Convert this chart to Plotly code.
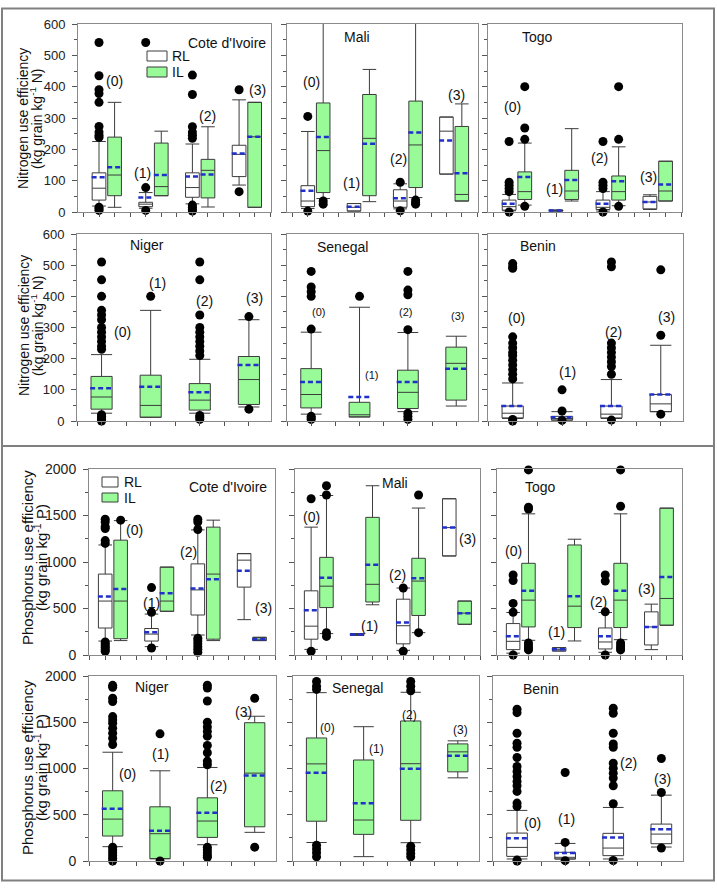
import plotly.graph_objects as go

W, H = 717, 889

GROUPS = ["(0)", "(1)", "(2)", "(3)"]
SERIES = ["RL", "IL"]
COUNTRIES = ["Cote d'Ivoire", "Mali", "Togo", "Niger", "Senegal", "Benin"]

# Box statistics per group (0)..(3): (q1, median, q3, lower whisker, upper whisker, mean)
# ---------------- Nitrogen use efficiency ----------------
N_CDI_RL = [(38, 76, 125, 19, 225, 111), (17, 25, 31, 12, 62, 46), (47, 78, 125, 26, 217, 113), (113, 184, 213, 86, 358, 187)]
N_CDI_RL_OUT = [[541, 435, 390, 378, 350, 273, 255, 245, 238, 15, 10, 5], [541, 78, 5], [437, 375, 272, 255, 245, 235, 22, 15, 8, 3], [390, 65]]
N_CDI_IL = [(52, 118, 239, 15, 350, 143), (52, 81, 220, 52, 258, 118), (45, 133, 168, 16, 272, 120), (15, 240, 350, 15, 350, 240)]
N_CDI_IL_OUT = [[], [], [], []]

N_MALI_RL = [(17, 35, 84, 11, 257, 68), (3, 15, 27, 3, 27, 17), (15, 35, 71, 10, 90, 44), (121, 258, 303, 121, 303, 228)]
N_MALI_RL_OUT = [[305, 3], [], [95, 4], []]
N_MALI_IL = [(62, 196, 348, 43, 750, 239), (52, 235, 375, 33, 455, 218), (78, 214, 354, 46, 750, 254), (35, 56, 273, 35, 345, 124)]
N_MALI_IL_OUT = [[35, 25], [], [38, 30, 25], []]

N_TOGO_RL = [(6, 17, 38, 4, 56, 26), (3, 5, 6, 3, 6, 5), (8, 15, 38, 3, 65, 26), (10, 32, 50, 8, 55, 32)]
N_TOGO_RL_OUT = [[225, 95, 85, 75, 65, 0], [], [225, 95, 85, 75, 0], []]
N_TOGO_IL = [(40, 65, 128, 22, 220, 112), (40, 67, 133, 35, 266, 102), (38, 65, 115, 20, 208, 98), (35, 67, 162, 35, 162, 88)]
N_TOGO_IL_OUT = [[400, 268, 232, 18], [], [400, 232, 18], []]

N_NIGER_IL = [(38, 77, 143, 25, 213, 105), (12, 50, 147, 12, 355, 110), (35, 67, 120, 25, 198, 92), (53, 133, 207, 45, 325, 180)]
N_NIGER_IL_OUT = [[510, 453, 400, 355, 340, 325, 300, 285, 270, 255, 240, 230, 20, 15, 10, 5, 0], [400],
                  [510, 453, 340, 300, 285, 270, 255, 240, 225, 210, 18, 12, 5], [335, 38]]

N_SENEGAL_IL = [(42, 85, 168, 22, 285, 125), (13, 20, 60, 13, 365, 77), (40, 92, 163, 30, 284, 125), (67, 185, 237, 48, 272, 168)]
N_SENEGAL_IL_OUT = [[480, 430, 415, 400, 295, 15, 10, 5], [400], [480, 420, 405, 293, 25, 15, 5], []]

N_BENIN_RL = [(10, 25, 48, 8, 122, 48), (3, 8, 15, 3, 30, 12), (10, 22, 48, 8, 133, 48), (30, 55, 85, 30, 243, 85)]
N_BENIN_RL_OUT = [[505, 495, 490, 270, 250, 235, 220, 210, 195, 180, 165, 150, 135, 5, 0], [100, 32, 2],
                  [510, 495, 250, 235, 220, 205, 190, 175, 150, 3], [485, 275, 22]]

# ---------------- Phosphorus use efficiency ----------------
P_CDI_RL = [(290, 580, 870, 150, 1183, 630), (150, 225, 285, 90, 440, 245), (430, 700, 980, 215, 1345, 715), (730, 1020, 1090, 380, 1090, 905)]
P_CDI_RL_OUT = [[1460, 1430, 1380, 1360, 1230, 1200, 140, 120, 100, 80, 60, 40], [725, 460, 75],
                [1460, 1430, 1350, 180, 150, 120, 90, 60, 30], []]
P_CDI_IL = [(175, 580, 1235, 155, 1445, 710), (470, 580, 945, 470, 945, 665), (170, 870, 1375, 155, 1450, 815), (155, 170, 190, 155, 190, 170)]
P_CDI_IL_OUT = [[1450], [], [], []]

P_MALI_RL = [(170, 310, 690, 60, 1375, 480), (210, 220, 230, 210, 230, 220), (120, 315, 600, 50, 720, 350), (1065, 1370, 1680, 1065, 1680, 1370)]
P_MALI_RL_OUT = [[1680, 40], [], [720, 40], []]
P_MALI_IL = [(510, 740, 1050, 230, 1715, 830), (570, 760, 1480, 540, 1820, 970), (425, 795, 1040, 240, 1580, 825), (330, 450, 580, 330, 580, 450)]
P_MALI_IL_OUT = [[1820, 1720, 240, 200], [], [1720, 240], []]

P_TOGO_RL = [(58, 147, 338, 20, 457, 201), (43, 61, 79, 43, 79, 61), (65, 140, 291, 29, 457, 201), (108, 302, 464, 58, 547, 302)]
P_TOGO_RL_OUT = [[860, 800, 555, 460, 0], [], [860, 795, 464, 0], []]
P_TOGO_IL = [(302, 590, 986, 158, 1518, 691), (295, 525, 1183, 151, 1245, 633), (295, 590, 986, 165, 1518, 691), (320, 608, 1579, 320, 1579, 838)]
P_TOGO_IL_OUT = [[1990, 1590, 1570, 130, 100, 75, 55], [], [1990, 1600, 130, 100, 75, 55], []]

P_NIGER_IL = [(270, 453, 759, 155, 1176, 565), (25, 295, 586, 25, 975, 327), (255, 432, 683, 176, 1011, 522), (370, 950, 1495, 310, 1565, 925)]
P_NIGER_IL_OUT = [[1899, 1878, 1759, 1723, 1561, 1525, 1489, 1435, 1381, 1327, 1259, 150, 120, 90, 60, 30, 0], [1375, 0],
                  [1900, 1870, 1730, 1500, 1450, 1400, 1350, 1250, 1170, 1080, 1040, 150, 120, 90, 60, 40], [1760, 150]]

P_SENEGAL_IL = [(430, 1050, 1330, 200, 1820, 955), (288, 443, 1092, 47, 1452, 623), (440, 1052, 1514, 198, 1824, 998), (964, 1180, 1266, 899, 1299, 1137)]
P_SENEGAL_IL_OUT = [[1940, 1890, 1855, 170, 130, 90, 45], [], [1940, 1890, 1840, 160, 120, 80, 45], []]

P_BENIN_RL = [(50, 147, 302, 22, 547, 245), (22, 40, 94, 22, 190, 86), (58, 140, 299, 22, 579, 255), (187, 291, 399, 151, 712, 342)]
P_BENIN_RL_OUT = [[1640, 1604, 1381, 1273, 1230, 1119, 1022, 968, 914, 860, 813, 752, 626, 590, 10, 0], [957, 201, 4],
                  [1651, 1597, 1381, 1266, 1230, 1058, 1004, 950, 896, 813, 619, 5], [1108, 741, 140]]

Y_TITLES = {"N": ("Nitrogen use efficiency", "(kg grain kg<sup>-1</sup> N)"),
            "P": ("Phosphorus use efficiency", "(kg grain kg<sup>-1</sup> P)")}
Y_MAX = {"N": 600, "P": 2000}
Y_DTICK = {"N": 100, "P": 500}

# ---------------- panel specification ----------------
PANELS = [
    dict(nut="N", row=0, col=0, country=COUNTRIES[0], RL=(N_CDI_RL, N_CDI_RL_OUT), IL=(N_CDI_IL, N_CDI_IL_OUT)),
    dict(nut="N", row=0, col=1, country=COUNTRIES[1], RL=(N_MALI_RL, N_MALI_RL_OUT), IL=(N_MALI_IL, N_MALI_IL_OUT)),
    dict(nut="N", row=0, col=2, country=COUNTRIES[2], RL=(N_TOGO_RL, N_TOGO_RL_OUT), IL=(N_TOGO_IL, N_TOGO_IL_OUT)),
    dict(nut="N", row=1, col=0, country=COUNTRIES[3], IL=(N_NIGER_IL, N_NIGER_IL_OUT)),
    dict(nut="N", row=1, col=1, country=COUNTRIES[4], IL=(N_SENEGAL_IL, N_SENEGAL_IL_OUT)),
    dict(nut="N", row=1, col=2, country=COUNTRIES[5], RL=(N_BENIN_RL, N_BENIN_RL_OUT)),
    dict(nut="P", row=0, col=0, country=COUNTRIES[0], RL=(P_CDI_RL, P_CDI_RL_OUT), IL=(P_CDI_IL, P_CDI_IL_OUT)),
    dict(nut="P", row=0, col=1, country=COUNTRIES[1], RL=(P_MALI_RL, P_MALI_RL_OUT), IL=(P_MALI_IL, P_MALI_IL_OUT)),
    dict(nut="P", row=0, col=2, country=COUNTRIES[2], RL=(P_TOGO_RL, P_TOGO_RL_OUT), IL=(P_TOGO_IL, P_TOGO_IL_OUT)),
    dict(nut="P", row=1, col=0, country=COUNTRIES[3], IL=(P_NIGER_IL, P_NIGER_IL_OUT)),
    dict(nut="P", row=1, col=1, country=COUNTRIES[4], IL=(P_SENEGAL_IL, P_SENEGAL_IL_OUT)),
    dict(nut="P", row=1, col=2, country=COUNTRIES[5], RL=(P_BENIN_RL, P_BENIN_RL_OUT)),
]

# ---------------- geometry (target pixels in the picture) ----------------
ROW_PX = {("N", 0): (24, 212), ("N", 1): (234, 421), ("P", 0): (469, 655), ("P", 1): (676, 861)}
COL_PX = {("N", 0): [(78, 271), (287, 478), (488, 682)],
          ("N", 1): [(77, 271), (287, 478), (488, 683)],
          ("P", 0): [(89, 275), (295, 480), (497, 682)],
          ("P", 1): [(89, 276), (293, 479), (493, 683)]}
COUNTRY_PX = [(227, 43), (357, 37), (537, 37), (147, 245), (342, 247), (538, 246),
              (228, 487), (395, 483), (540, 487), (152, 687), (357, 688), (541, 689)]
# group label positions, in each panel's data coordinates
LABEL_XY = [
    [(2.0, 417), (3.8, 124), (8.0, 305), (11.2, 390)],
    [(1.26, 415), (3.84, 92), (6.87, 168), (10.68, 373)],
    [(1.2, 335), (3.9, 73), (6.75, 172), (9.9, 112)],
    [(1.42, 284), (2.13, 444), (3.09, 385), (4.11, 394)],
    [(1.15, 351), (2.25, 147), (2.95, 349), (4.03, 337)],
    [(1.07, 329), (2.11, 157), (3.05, 286), (4.11, 333)],
    [(2.92, 1344), (4.0, 559), (6.38, 1107), (11.25, 505)],
    [(1.05, 1484), (4.82, 312), (6.64, 860), (11.18, 1247)],
    [(1.05, 1118), (3.85, 247), (6.57, 570), (9.69, 710)],
    [(1.32, 946), (2.0, 1161), (3.23, 806), (3.76, 1612)],
    [(1.24, 1440), (2.28, 1215), (2.98, 1580), (4.05, 1419)],
    [(1.33, 409), (2.02, 452), (3.31, 1064), (4.03, 882)],
]
LABEL_SIZE = [14, 14, 14, 14, 11, 14, 14, 14, 14, 14, 12, 14]
# y-axis title placement: (nutrient, centre y, x of line 1, x of line 2, font size)
TITLE_PX = [("N", 119, 23, 36, 14), ("N", 326, 24, 37, 14), ("P", 558, 27, 40, 15), ("P", 768, 27, 40, 15)]
LEGEND_PX = [((147, 51, 167, 61), (147, 67, 167, 77), 170), ((102, 477, 118, 487), (102, 493, 118, 502), 122)]

FONT = "Liberation Sans, Arial, sans-serif"
FILL = {"RL": "#ffffff", "IL": "#98fb98"}
BOX_LINE = "#3c3c3c"
MEAN_COLOR = "#2030c8"
AXIS_COLOR = "#8a8a8a"

# the page is shown with an 8 px top offset and a slight vertical squeeze
V_OFF, V_SCALE = 8.0, 0.982


def px_x(px):
    return px / W


def px_y(py):
    d = (py - V_OFF) / V_SCALE
    d = min(max(d, 0.5), H - 0.5)
    return 1 - d / H


fig = go.Figure()
annotations = []
shapes = []

for i, p in enumerate(PANELS):
    n = i + 1
    xa = "x" if n == 1 else f"x{n}"
    ya = "y" if n == 1 else f"y{n}"
    paired = ("RL" in p) and ("IL" in p)
    if paired:
        pos = {"RL": [1, 4, 7, 10], "IL": [2, 5, 8, 11]}
        xr = [-0.35, 12.05] if p["nut"] == "N" else [-0.05, 12.0]
        bw = 0.88
        tick0, dtick = 0, 1
    else:
        pos = {"RL": [1, 2, 3, 4], "IL": [1, 2, 3, 4]}
        xr = [0.5, 4.45]
        bw = 0.43
        tick0, dtick = 0.5, 0.5
    hw = bw / 2 * 1.08

    for s in SERIES:
        if s not in p:
            continue
        stats, outs = p[s]
        xs = pos[s]
        fig.add_trace(go.Box(
            x=xs,
            q1=[v[0] for v in stats], median=[v[1] for v in stats], q3=[v[2] for v in stats],
            lowerfence=[v[3] for v in stats], upperfence=[v[4] for v in stats],
            width=bw, whiskerwidth=1, boxpoints=False,
            fillcolor=FILL[s], line=dict(color=BOX_LINE, width=1),
            name=s, showlegend=False, hoverinfo="skip",
            xaxis=xa, yaxis=ya))
        mx, my = [], []
        for x, v in zip(xs, stats):
            mx += [x - hw, x + hw, None]
            my += [v[5], v[5], None]
        fig.add_trace(go.Scatter(x=mx, y=my, mode="lines",
                                 line=dict(color=MEAN_COLOR, width=2.5, dash="5px,3px"),
                                 showlegend=False, hoverinfo="skip", xaxis=xa, yaxis=ya))
        ox, oy = [], []
        for x, o in zip(xs, outs):
            ox += [x] * len(o)
            oy += o
        fig.add_trace(go.Scatter(x=ox, y=oy, mode="markers", cliponaxis=False,
                                 marker=dict(color="black", size=9),
                                 showlegend=False, hoverinfo="skip", xaxis=xa, yaxis=ya))

    x0, x1 = COL_PX[(p["nut"], p["row"])][p["col"]]
    y0, y1 = ROW_PX[(p["nut"], p["row"])]
    xkey = "xaxis" if n == 1 else f"xaxis{n}"
    ykey = "yaxis" if n == 1 else f"yaxis{n}"
    fig.update_layout(**{
        xkey: dict(domain=[px_x(x0), px_x(x1)], anchor=ya, range=xr,
                   showline=True, mirror=True, linecolor=AXIS_COLOR, linewidth=1,
                   ticks="outside", ticklen=4, tickcolor="#555", tickwidth=1,
                   tickmode="linear", tick0=tick0, dtick=dtick,
                   showticklabels=False, showgrid=False, zeroline=False, fixedrange=True),
        ykey: dict(domain=[px_y(y1), px_y(y0)], anchor=xa, range=[0, Y_MAX[p["nut"]]],
                   showline=True, mirror=True, linecolor=AXIS_COLOR, linewidth=1,
                   ticks="outside", ticklen=5, tickcolor="#555", tickwidth=1,
                   tickmode="linear", tick0=0, dtick=Y_DTICK[p["nut"]],
                   minor=dict(ticks="outside", ticklen=3, tickcolor="#555", dtick=Y_DTICK[p["nut"]] / 2),
                   showticklabels=(p["col"] == 0), ticklabelstandoff=4,
                   tickfont=dict(family=FONT, size=13 if p["nut"] == "N" else 14, color="#222"),
                   showgrid=False, zeroline=False, fixedrange=True),
    })

    for g, (lx, ly) in zip(GROUPS, LABEL_XY[i]):
        annotations.append(dict(x=lx, y=ly, xref=xa, yref=ya, text=g, showarrow=False,
                                font=dict(family=FONT, size=LABEL_SIZE[i], color="#111"),
                                xanchor="center", yanchor="middle"))
    cx, cy = COUNTRY_PX[i]
    annotations.append(dict(x=px_x(cx), y=px_y(cy), xref="paper", yref="paper", text=p["country"],
                            showarrow=False, font=dict(family=FONT, size=14, color="#111"),
                            xanchor="center", yanchor="middle"))

# y-axis titles (two rotated lines each)
for nut, cy, lx1, lx2, fs in TITLE_PX:
    for txt, lx in zip(Y_TITLES[nut], (lx1, lx2)):
        annotations.append(dict(x=px_x(lx), y=px_y(cy), xref="paper", yref="paper", text=txt,
                                textangle=-90, showarrow=False,
                                font=dict(family=FONT, size=fs, color="#111"),
                                xanchor="center", yanchor="middle"))

# RL / IL keys in each half
for rl_box, il_box, tx in LEGEND_PX:
    for s, (bx0, by0, bx1, by1) in zip(SERIES, (rl_box, il_box)):
        shapes.append(dict(type="rect", xref="paper", yref="paper",
                           x0=px_x(bx0), x1=px_x(bx1), y0=px_y(by1), y1=px_y(by0),
                           fillcolor=FILL[s], line=dict(color=BOX_LINE, width=1)))
        annotations.append(dict(x=px_x(tx), y=px_y((by0 + by1) / 2), xref="paper", yref="paper",
                                text=s, showarrow=False, xanchor="left", yanchor="middle",
                                font=dict(family=FONT, size=14, color="#111")))

# outer frames
shapes.append(dict(type="rect", xref="paper", yref="paper", x0=px_x(2), x1=px_x(714), y0=px_y(887), y1=px_y(2),
                   line=dict(color="#808080", width=2), fillcolor="rgba(0,0,0,0)", layer="below"))
shapes.append(dict(type="line", xref="paper", yref="paper", x0=px_x(2), x1=px_x(714), y0=px_y(446), y1=px_y(446),
                   line=dict(color="#808080", width=2)))

fig.update_layout(width=W, height=H, margin=dict(l=0, r=0, t=0, b=0, pad=0),
                  paper_bgcolor="white", plot_bgcolor="white", boxmode="overlay",
                  showlegend=False, annotations=annotations, shapes=shapes,
                  font=dict(family=FONT, color="#111"))

fig.write_html("out.html", config={"displayModeBar": False},
               post_script="document.body.style.margin='0px';"
                           "document.documentElement.style.overflow='hidden';"
                           "document.body.style.overflow='hidden';")
